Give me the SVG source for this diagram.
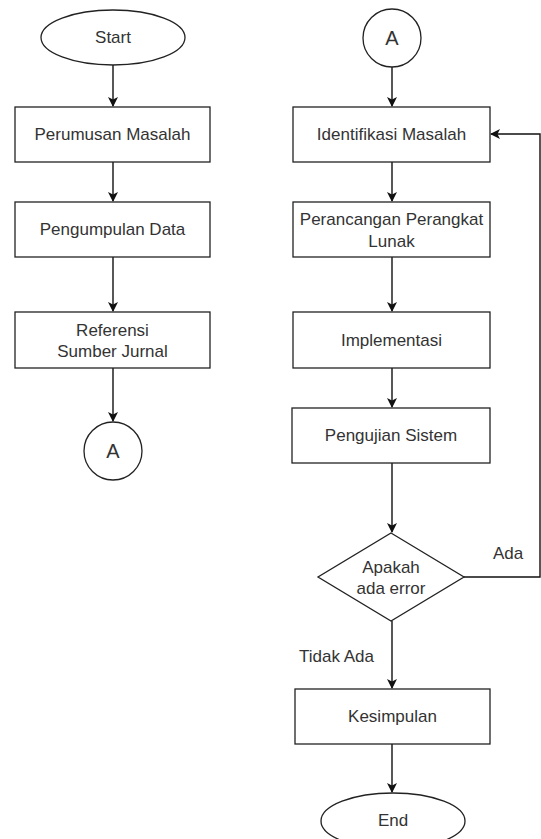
<svg xmlns="http://www.w3.org/2000/svg" width="541" height="839" viewBox="0 0 541 839">
<style>
.s{fill:#fff;stroke:#222;stroke-width:1.3}
.t{font-family:"Liberation Sans",Arial,sans-serif;font-size:17px;fill:#333;text-anchor:middle;dominant-baseline:central}
.c{fill:none;stroke:#111;stroke-width:1.4}
.l{font-family:"Liberation Sans",Arial,sans-serif;font-size:17px;fill:#333}
</style>
<defs>
<marker id="ah" markerWidth="10" markerHeight="10" refX="9" refY="5" orient="auto" markerUnits="userSpaceOnUse">
<path d="M0,0 L10,5 L0,10 L2.5,5 Z" fill="#111"/>
</marker>
</defs>
<rect width="541" height="839" fill="#fff"/>
<g id="connectors">
<line class="c" x1="113" y1="65" x2="113" y2="106" marker-end="url(#ah)"/>
<line class="c" x1="113" y1="162" x2="113" y2="201" marker-end="url(#ah)"/>
<line class="c" x1="113" y1="257" x2="113" y2="311" marker-end="url(#ah)"/>
<line class="c" x1="113" y1="368" x2="113" y2="421" marker-end="url(#ah)"/>
<line class="c" x1="392" y1="67" x2="392" y2="106" marker-end="url(#ah)"/>
<line class="c" x1="392" y1="162" x2="392" y2="201" marker-end="url(#ah)"/>
<line class="c" x1="392" y1="257" x2="392" y2="311" marker-end="url(#ah)"/>
<line class="c" x1="392" y1="368" x2="392" y2="407" marker-end="url(#ah)"/>
<line class="c" x1="392" y1="463" x2="392" y2="532" marker-end="url(#ah)"/>
<line class="c" x1="392" y1="621" x2="392" y2="688" marker-end="url(#ah)"/>
<line class="c" x1="392" y1="744" x2="392" y2="792" marker-end="url(#ah)"/>
<polyline class="c" points="464,577 540,577 540,134 491,134" marker-end="url(#ah)"/>
<text class="l" x="493" y="559">Ada</text>
<text class="l" x="299" y="662">Tidak Ada</text>
</g>
<g id="start"><ellipse class="s" cx="113" cy="37.5" rx="72" ry="27.5"/><text class="t" x="113" y="37.5">Start</text></g>
<g id="perumusan"><rect class="s" x="15" y="107" width="195" height="55"/><text class="t" x="112.5" y="134.5">Perumusan Masalah</text></g>
<g id="pengumpulan"><rect class="s" x="15" y="202" width="195" height="55"/><text class="t" x="112.5" y="229.5">Pengumpulan Data</text></g>
<g id="referensi"><rect class="s" x="15" y="312" width="195" height="56"/><text class="t" x="112.5" y="330">Referensi</text><text class="t" x="112.5" y="351">Sumber Jurnal</text></g>
<g id="connA1"><circle class="s" cx="113" cy="451" r="29"/><text class="t" x="113" y="451" style="font-size:20px">A</text></g>
<g id="connA2"><circle class="s" cx="392" cy="38" r="29"/><text class="t" x="392" y="38" style="font-size:20px">A</text></g>
<g id="identifikasi"><rect class="s" x="293" y="107" width="197" height="55"/><text class="t" x="391.5" y="134.5">Identifikasi Masalah</text></g>
<g id="perancangan"><rect class="s" x="293" y="202" width="197" height="55"/><text class="t" x="391.5" y="219">Perancangan Perangkat</text><text class="t" x="391.5" y="241">Lunak</text></g>
<g id="implementasi"><rect class="s" x="293" y="312" width="197" height="56"/><text class="t" x="391.5" y="340">Implementasi</text></g>
<g id="pengujian"><rect class="s" x="292" y="408" width="198" height="55"/><text class="t" x="391" y="435.5">Pengujian Sistem</text></g>
<g id="decision"><polygon class="s" points="391,533 464,577 391,621 318,577"/><text class="t" x="391" y="567">Apakah</text><text class="t" x="391" y="588">ada error</text></g>
<g id="kesimpulan"><rect class="s" x="295" y="689" width="195" height="55"/><text class="t" x="392.5" y="716.5">Kesimpulan</text></g>
<g id="end"><ellipse class="s" cx="393" cy="821" rx="72" ry="28"/><text class="t" x="393" y="820">End</text></g>
</svg>
